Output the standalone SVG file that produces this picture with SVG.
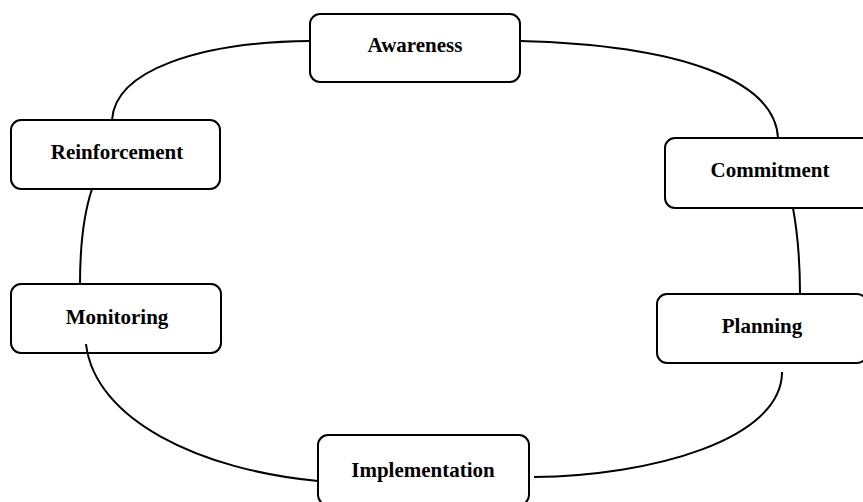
<svg xmlns="http://www.w3.org/2000/svg" width="863" height="502" viewBox="0 0 863 502">
<style>
.box{fill:#fff;stroke:#000;stroke-width:2}
.lbl{font-family:"Liberation Serif","Times New Roman",serif;font-weight:bold;font-size:21px;text-anchor:middle;fill:#000}
.con{fill:none;stroke:#000;stroke-width:2}
</style>
<rect width="863" height="502" fill="#fff"/>
<g id="awareness"><rect class="box" x="310" y="14" width="210" height="68" rx="10"/><text class="lbl" x="415" y="52">Awareness</text></g>
<g id="commitment"><rect class="box" x="665" y="138" width="210" height="70" rx="10"/><text class="lbl" x="770" y="177">Commitment</text></g>
<g id="planning"><rect class="box" x="657" y="294" width="210" height="69" rx="10"/><text class="lbl" x="762" y="333">Planning</text></g>
<g id="implementation"><rect class="box" x="318" y="435" width="211" height="70" rx="10"/><text class="lbl" x="423" y="477">Implementation</text></g>
<g id="monitoring"><rect class="box" x="11" y="284" width="210" height="69" rx="10"/><text class="lbl" x="117" y="324">Monitoring</text></g>
<g id="reinforcement"><rect class="box" x="11" y="120" width="209" height="69" rx="10"/><text class="lbl" x="117" y="159">Reinforcement</text></g>
<g id="connectors">
<path class="con" d="M310,41 C200,42 115,70 112,120"/>
<path class="con" d="M520,41 C680,45 775,80 778,138"/>
<path class="con" d="M793,208 C797,230 800,260 800,294"/>
<path class="con" d="M782,372 C782,440 650,476 534,477"/>
<path class="con" d="M318,481 C200,470 95,420 86,344"/>
<path class="con" d="M80,284 C80,240 85,210 92,189"/>
</g>
</svg>
